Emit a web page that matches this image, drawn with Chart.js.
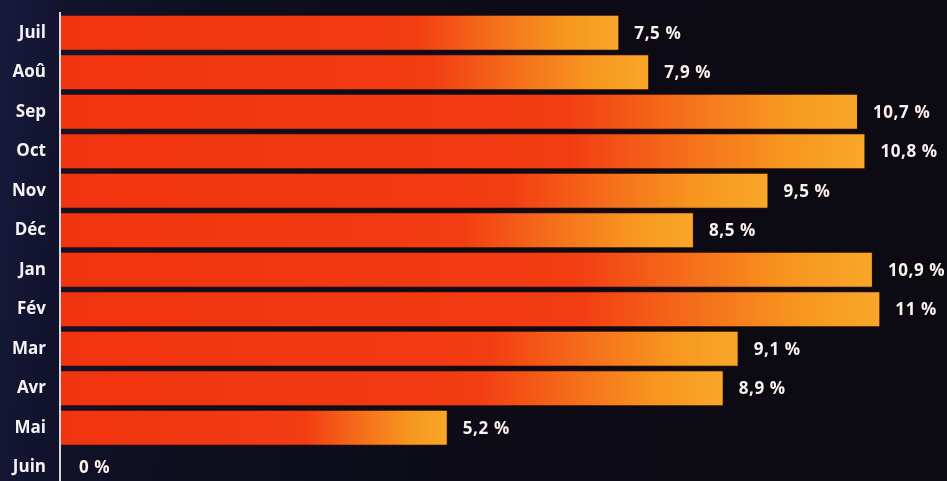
<!DOCTYPE html>
<html>
<head>
<meta charset="utf-8">
<script src="https://cdn.jsdelivr.net/npm/chart.js@4"></script>
<style>
  html, body { margin: 0; padding: 0; overflow: hidden; }
  body {
    width: 947px; height: 481px;
    background: linear-gradient(95deg, #171a3c 0%, #121430 6%, #0e0f20 20%, #0c0b16 55%, #0c0b12 100%);
  }
  #wrap { position: relative; width: 947px; height: 490px; }
</style>
</head>
<body>
<div id="wrap"><canvas id="bar1"></canvas></div>
<script>
var months = ["Juil", "Aoû", "Sep", "Oct", "Nov", "Déc", "Jan", "Fév", "Mar", "Avr", "Mai", "Juin"];
var shares = [7.5, 7.9, 10.7, 10.8, 9.5, 8.5, 10.9, 11, 9.1, 8.9, 5.2, 0];
var shareLabels = ["7,5 %", "7,9 %", "10,7 %", "10,8 %", "9,5 %", "8,5 %", "10,9 %", "11 %", "9,1 %", "8,9 %", "5,2 %", "0 %"];

var myBarChart;

// gradient follows each bar: mostly red, turning orange near its end
function barFill(ctx) {
    var chart = ctx.chart;
    if (!chart.chartArea || ctx.raw === undefined) return '#f23a12';
    var x = chart.scales.x;
    var x0 = x.getPixelForValue(0);
    var x1 = x.getPixelForValue(ctx.raw);
    if (x1 - x0 < 2) return '#f23a12';
    var g = chart.ctx.createLinearGradient(x0, 0, x1, 0);
    g.addColorStop(0, '#f0340f');
    g.addColorStop(0.63, '#f23c12');
    g.addColorStop(0.78, '#f5701b');
    g.addColorStop(0.9, '#f7961f');
    g.addColorStop(1, '#f8a72a');
    return g;
}

var valueLabels = {
    id: 'valueLabels',
    afterDatasetsDraw: function (chart) {
        var c = chart.ctx;
        var meta = chart.getDatasetMeta(0);
        c.save();
        c.font = 'bold 17px "Open Sans", sans-serif';
        c.letterSpacing = '0.6px';
        c.fillStyle = '#f6f2f2';
        c.textBaseline = 'middle';
        c.textAlign = 'left';
        c.shadowColor = 'rgba(40,0,0,0.9)';
        c.shadowBlur = 2;
        meta.data.forEach(function (bar, i) {
            var gap = shares[i] > 0 ? 15 : 19;
            c.fillText(shareLabels[i], bar.x + gap, bar.y + 1);
        });
        c.restore();
    }
};

function drawMonthChart() {
    var barCont = document.getElementById("bar1");
    const data = {
        labels: months,
        datasets: [{
            data: shares,
            backgroundColor: barFill,
            borderColor: '#3a0c06',
            borderWidth: 1,
            borderSkipped: 'start',
            barPercentage: 0.91,
            categoryPercentage: 1
        }]
    };

    myBarChart = new Chart(barCont, {
        type: 'bar',
        data: data,
        plugins: [valueLabels],
        options: {
            indexAxis: 'y',
            responsive: true,
            maintainAspectRatio: false,
            animation: false,
            layout: { padding: { top: 13, bottom: 3, right: 7, left: 0 } },
            plugins: {
                legend: { display: false },
                tooltip: { enabled: false }
            },
            scales: {
                x: {
                    display: false,
                    min: 0,
                    max: 11.8
                },
                y: {
                    afterFit: function (s) {
                        s.width = 60;
                        s.paddingTop = 0;
                        s.paddingBottom = 0;
                    },
                    grid: { display: false, drawTicks: false },
                    border: { display: true, color: '#d6d6de', width: 2, z: 1 },
                    ticks: {
                        color: '#f6f2f2',
                        padding: 14,
                        font: { family: '"Open Sans", sans-serif', weight: 'bold', size: 17 }
                    }
                }
            }
        }
    });
}

drawMonthChart();
</script>
</body>
</html>
